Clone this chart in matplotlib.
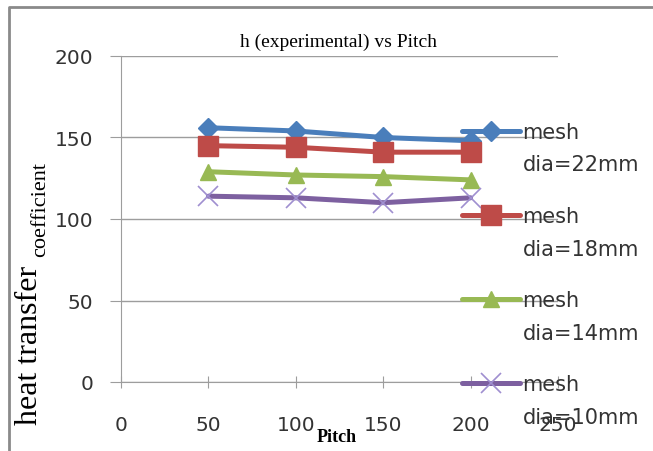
""" h (experimental) vs Pitch for different mesh diameters """

import matplotlib
matplotlib.use("Agg")
import matplotlib.pyplot as plt
from matplotlib.lines import Line2D

pitch = [50, 100, 150, 200]
h_22 = [156, 154, 150, 148]
h_18 = [145, 144, 141, 141]
h_14 = [129, 127, 126, 124]
h_10 = [114, 113, 110, 113]
labels = ['dia=22mm', 'dia=18mm', 'dia=14mm', 'dia=10mm']

W, H = 653, 452
fig = plt.figure(figsize=(W / 100, H / 100), dpi=100)
ax = fig.add_axes([121 / W, 1 - 383 / H, 437 / W, 326 / H])

grey = '#9d9d9d'
tick_font = dict(family='DejaVu Sans', size=14.5)

# outer chart frame: only left and top edges are inside the picture
fig.lines.append(Line2D([9 / W, 9 / W, 1.0], [0.0, 1 - 8 / H, 1 - 8 / H],
                        transform=fig.transFigure, color='#8a8a8a', lw=2))

series = [
    (h_22, '#4a7ebb', 'D', 10, dict()),
    (h_18, '#be4b48', 's', 14, dict()),
    (h_14, '#98b954', '^', 12, dict()),
    (h_10, '#7d60a0', 'x', 15, dict(markeredgecolor='#9f8fd0', markeredgewidth=1.2)),
]
handles = []
for vals, col, mk, ms, extra in series:
    ln, = ax.plot(pitch, vals, color=col, lw=3.6, marker=mk, markersize=ms,
                  markerfacecolor=col, markeredgecolor=extra.get('markeredgecolor', col),
                  markeredgewidth=extra.get('markeredgewidth', 1), solid_capstyle='round',
                  clip_on=False)
    handles.append(ln)

ax.set_xlim(0, 250)
ax.set_ylim(0, 200)
ax.set_xticks(range(0, 251, 50))
ax.set_yticks(range(0, 201, 50))
ax.grid(axis='y', color=grey, lw=1)
ax.set_axisbelow(True)
for s in ['top', 'right']:
    ax.spines[s].set_visible(False)
for s in ['left', 'bottom']:
    ax.spines[s].set_color(grey)
ax.tick_params(axis='x', direction='inout', length=8, color=grey, pad=20, labelcolor='#333333')
ax.tick_params(axis='y', direction='out', length=8, color=grey, pad=12, labelcolor='#333333')
for t in ax.get_xticklabels() + ax.get_yticklabels():
    t.set_fontproperties(tick_font)

# legend: "mesh" next to the line sample, size label underneath
leg = ax.legend(handles, ['mesh'] * 4, loc='upper left', bbox_to_anchor=(462 / W, 1 - 123 / H),
                bbox_transform=fig.transFigure, frameon=False, borderpad=0, borderaxespad=0,
                handlelength=2.8, handletextpad=0.1, labelspacing=3.08,
                prop=dict(family='DejaVu Sans', size=15))
for txt, lab in zip(leg.get_texts(), labels):
    txt.set_color('#333333')
    ax.annotate(lab, xy=(0, 0), xycoords=txt, xytext=(0, -9), textcoords='offset points',
                va='top', ha='left', family='DejaVu Sans', size=15, color='#333333',
                annotation_clip=False, zorder=10)

fig.text(338 / W, 1 - 42 / H, 'h (experimental) vs Pitch', ha='center', va='center',
         family='Liberation Serif', size=14)
fig.text(337 / W, 1 - 438 / H, 'Pitch', ha='center', va='center',
         family='Liberation Serif', size=13, weight='bold')
fig.text(37 / W, 1 - 425 / H, 'heat transfer', rotation=90, rotation_mode='anchor',
         ha='left', va='baseline', family='Liberation Serif', size=23)
fig.text(45 / W, 1 - 257 / H, 'coefficient', rotation=90, rotation_mode='anchor',
         ha='left', va='baseline', family='Liberation Serif', size=16)

fig.savefig('out.png', dpi=100)
